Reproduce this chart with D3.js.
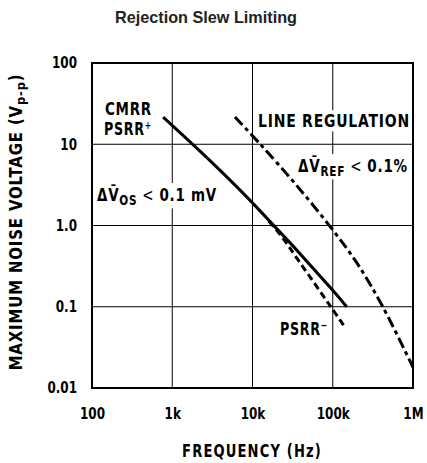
<!DOCTYPE html>
<html><head><meta charset="utf-8">
<script src="https://cdn.jsdelivr.net/npm/d3@7"></script>
<style>
body{margin:0;background:#fff;}
svg{display:block;}
.c{font-family:"DejaVu Sans",sans-serif;font-weight:bold;fill:#000;}
</style></head><body>
<svg id="chart" width="427" height="463"></svg>
<script>
const xTicks = [100, 1e3, 1e4, 1e5, 1e6];
const xTickLabels = ["100", "1k", "10k", "100k", "1M"];
const yTicks = [0.01, 0.1, 1, 10, 100];
const yTickLabels = ["0.01", "0.1", "1.0", "10", "100"];

// CMRR / PSRR+ (solid)
const cmrrF = [770, 3000, 10000, 100000, 149000];
const cmrrV = [21.6, 6.2, 1.9, 0.16, 0.1];
// PSRR- (dashed)
const psrrMF = [16000, 22000, 39000, 92500, 142000];
const psrrMV = [1.13, 0.78, 0.35, 0.103, 0.056];
// Line regulation (dash-dot)
const lineRegF = [6050, 12500, 35000, 100000, 200000, 420000, 1000000];
const lineRegV = [21.6, 10, 3.16, 0.88, 0.346, 0.1, 0.018];

const svg = d3.select("#chart");
const L = 92, R = 413, T = 63, B = 388;
const x = d3.scaleLog().domain([100, 1e6]).range([L, R]);
const y = d3.scaleLog().domain([0.01, 100]).range([B, T]);

function condense(sel, w) {
  const bb = sel.node().getBBox();
  return bb.width ? w / bb.width : 1;
}

// grid
const g = svg.append("g");
g.selectAll(".vx").data(xTicks).join("line")
  .attr("x1", d => x(d)).attr("x2", d => x(d)).attr("y1", T).attr("y2", B)
  .attr("stroke", "#000").attr("stroke-width", 1);
g.selectAll(".hy").data(yTicks).join("line")
  .attr("y1", d => y(d)).attr("y2", d => y(d)).attr("x1", L).attr("x2", R)
  .attr("stroke", "#000").attr("stroke-width", 1);

const xAxis = svg.append("g").attr("transform", `translate(0,${B})`)
  .call(d3.axisBottom(x).tickValues(xTicks).tickFormat((d, i) => xTickLabels[i]).tickSize(0).tickPadding(20));
const yAxis = svg.append("g").attr("transform", `translate(${L},0)`)
  .call(d3.axisLeft(y).tickValues(yTicks).tickFormat((d, i) => yTickLabels[i]).tickSize(0).tickPadding(18.75));
[xAxis, yAxis].forEach(a => {
  a.select(".domain").remove();
  a.selectAll("text").attr("class", "c").style("font-size", "15px").attr("fill", "#000")
    .attr("transform", "scale(0.8,1)");
});

const line = d3.line().x(d => x(d[0])).y(d => y(d[1])).curve(d3.curveCatmullRom.alpha(0.5));
const zip = (a, b) => a.map((v, i) => [v, b[i]]);

const labelsG = svg.append("g");
const textsG = svg.append("g");
function label(xp, yp, parts, size, w) {
  const t = textsG.append("text").attr("class", "c").attr("x", 0).attr("y", 0)
    .style("font-size", size + "px").style("letter-spacing", "1px");
  parts.forEach(p => {
    const s = t.append("tspan").text(p.t);
    if (p.dy) s.attr("dy", p.dy);
    if (p.fs) s.style("font-size", p.fs + "px");
    if (p.fw) s.style("font-weight", p.fw);
  });
  const k = condense(t, w);
  t.attr("transform", `translate(${xp},${yp}) scale(${k},1)`);
  const bb = t.node().getBBox();
  labelsG.append("rect").attr("x", xp + bb.x * k - 2).attr("y", yp + bb.y)
    .attr("width", bb.width * k + 4).attr("height", bb.height).attr("fill", "#fff");
  return t;
}

label(105, 115, [{t: "CMRR"}], 18, 47);
label(104, 135, [{t: "PSRR"}, {t: "+", dy: -6, fs: 11}], 18, 48);
label(97, 201, [{t: "Δ"}, {t: "V̄"}, {t: "OS", dy: 4, fs: 14}, {t: " < ", dy: -4, fw: "normal"}, {t: "0.1 mV"}], 18, 120);
label(258, 127, [{t: "LINE REGULATION"}], 18, 152);
label(298, 172, [{t: "Δ"}, {t: "V̄"}, {t: "REF", dy: 4, fs: 14}, {t: " < ", dy: -4, fw: "normal"}, {t: "0.1%"}], 18, 110);
label(280, 335, [{t: "PSRR"}, {t: "−", dy: -6, fs: 11}], 18, 48);

svg.node().insertBefore(labelsG.node(), g.node().nextSibling);

svg.append("path").datum(zip(cmrrF, cmrrV)).attr("d", line)
  .attr("fill", "none").attr("stroke", "#000").attr("stroke-width", 3);
svg.append("path").datum(zip(psrrMF, psrrMV)).attr("d", line)
  .attr("fill", "none").attr("stroke", "#000").attr("stroke-width", 3).attr("stroke-dasharray", "7,4");
svg.append("path").datum(zip(lineRegF, lineRegV)).attr("d", line)
  .attr("fill", "none").attr("stroke", "#000").attr("stroke-width", 3).attr("stroke-dasharray", "11,4,4,4");

svg.append("rect").attr("x", L).attr("y", T).attr("width", R - L).attr("height", B - T)
  .attr("fill", "none").attr("stroke", "#000").attr("stroke-width", 2);

// axis titles
const xt = svg.append("text").attr("class", "c").attr("text-anchor", "middle")
  .style("font-size", "17px").style("letter-spacing", "1.5px").text("FREQUENCY (Hz)");
xt.attr("transform", `translate(252,457) scale(${condense(xt, 140)},1)`);
const yt = svg.append("text").attr("class", "c")
  .attr("text-anchor", "middle").style("font-size", "17px").style("letter-spacing", "1px");
yt.append("tspan").text("MAXIMUM NOISE VOLTAGE (V");
yt.append("tspan").text("p-p").attr("dy", 3).style("font-size", "13px");
yt.append("tspan").text(")").attr("dy", -3);
yt.attr("transform", `translate(22,222) rotate(-90) scale(${condense(yt, 297)},1)`);

svg.append("text").attr("x", 206).attr("y", 23).attr("text-anchor", "middle")
  .style("font-family", "'Liberation Sans', Arial, sans-serif").style("font-weight", "bold")
  .style("font-size", "17px").attr("textLength", 182).attr("lengthAdjust", "spacingAndGlyphs")
  .attr("fill", "#222").text("Rejection Slew Limiting");
</script>
</body></html>
